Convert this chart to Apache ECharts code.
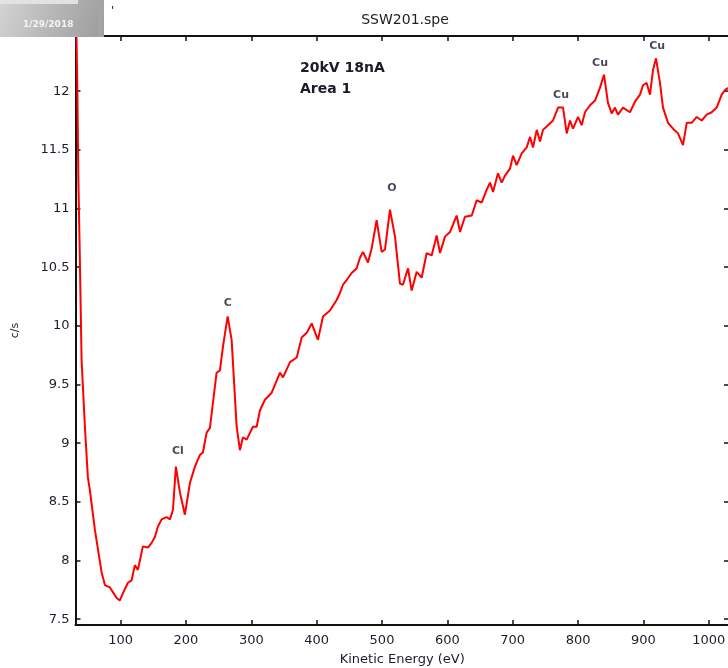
<!DOCTYPE html>
<html><head><meta charset="utf-8">
<script src="https://cdn.jsdelivr.net/npm/echarts@6/dist/echarts.min.js"></script>
<style>html,body{margin:0;padding:0;background:#fff}#c{width:728px;height:668px}</style>
</head><body><div id="c"></div>
<script>
const energy = [31, 33.9, 35.4, 37.7, 40.3, 45.4, 49.9, 53, 60.7, 70.9,
  76, 83.6, 88.2, 93.9, 98.9, 103.5, 111.2, 116.8, 121.9, 126.5,
  134.1, 141.8, 147.5, 152.5, 157.1, 162.8, 170.4, 175.5, 180.1, 184.6,
  190.8, 198.4, 206.1, 213.7, 221.4, 226, 231.6, 236.7, 246.9, 252,
  256.6, 263.8, 269.9, 277.6, 282.6, 287.2, 292.9, 302.5, 308.2, 313.3,
  320.9, 331.2, 343.9, 348.5, 359.2, 369.5, 377.1, 384.8, 392.4, 402,
  409.7, 420.4, 430.6, 435.7, 440.3, 446, 453.6, 461.3, 466.3, 470.9,
  478.6, 484.2, 491.8, 499.5, 504.6, 512.2, 519.9, 527.5, 532.1, 539.8,
  545.4, 553.1, 560.7, 568.4, 576, 583.7, 588.8, 596.4, 604.1, 614.3,
  619.4, 627, 637.3, 644.9, 652.6, 660.2, 665.3, 669.9, 677.5, 683.2,
  688.2, 695.9, 700.5, 706.1, 713.8, 721.4, 726.5, 731.1, 736.8, 741.8,
  746.4, 754.1, 761.7, 769.4, 777, 782.7, 787.7, 792.3, 800, 805.6,
  810.6, 818.3, 826, 833.6, 839.7, 845.8, 851.5, 856.5, 861.1, 868.8,
  879.5, 887.1, 894.8, 899.4, 905, 910.1, 914.7, 919.3, 925.4, 930,
  937.7, 945.3, 953, 960.6, 966.3, 973.9, 981.6, 989.2, 996.9, 1004.5,
  1012.2, 1019.8, 1024.9, 1031];
const counts = [13.0, 11.98, 11.24, 10.56, 9.71, 9.14, 8.71, 8.60, 8.26, 7.90,
  7.79, 7.77, 7.73, 7.68, 7.66, 7.72, 7.81, 7.83, 7.96, 7.92,
  8.12, 8.11, 8.15, 8.20, 8.29, 8.35, 8.37, 8.35, 8.43, 8.80,
  8.58, 8.39, 8.66, 8.80, 8.90, 8.92, 9.09, 9.13, 9.60, 9.62,
  9.82, 10.08, 9.88, 9.14, 8.94, 9.05, 9.03, 9.14, 9.14, 9.28,
  9.37, 9.43, 9.60, 9.56, 9.69, 9.73, 9.90, 9.94, 10.02, 9.88,
  10.08, 10.13, 10.22, 10.28, 10.35, 10.39, 10.45, 10.49, 10.58, 10.63,
  10.54, 10.66, 10.90, 10.63, 10.65, 10.99, 10.76, 10.36, 10.35, 10.49,
  10.30, 10.46, 10.41, 10.62, 10.60, 10.77, 10.62, 10.76, 10.80, 10.94,
  10.80, 10.93, 10.94, 11.07, 11.05, 11.16, 11.22, 11.14, 11.30, 11.22,
  11.28, 11.34, 11.45, 11.37, 11.47, 11.52, 11.61, 11.52, 11.67, 11.57,
  11.67, 11.71, 11.75, 11.86, 11.86, 11.64, 11.75, 11.68, 11.78, 11.71,
  11.82, 11.88, 11.92, 12.03, 12.14, 11.90, 11.81, 11.86, 11.80, 11.86,
  11.82, 11.91, 11.97, 12.05, 12.07, 11.97, 12.18, 12.28, 12.07, 11.86,
  11.73, 11.68, 11.64, 11.54, 11.73, 11.73, 11.78, 11.75, 11.80, 11.82,
  11.86, 11.97, 12.01, 12.03];
const xTicks = [100, 200, 300, 400, 500, 600, 700, 800, 900, 1000];
const yTicks = [7.5, 8, 8.5, 9, 9.5, 10, 10.5, 11, 11.5, 12];
const peakNames = ['Cl', 'C', 'O', 'Cu', 'Cu', 'Cu'];
const peakX = [187.7, 264.2, 515.3, 774, 833.7, 921];
const peakY = [8.93, 10.19, 11.17, 11.97, 12.24, 12.38];
const titleText = 'SSW201.spe';
const dateText = '1/29/2018';
const noteLines = ['20kV 18nA', 'Area 1'];
const xName = 'Kinetic Energy (eV)';
const yName = 'c/s';

const X_MIN = 31, X_MAX = 1031, Y_MIN = 7.45, Y_MAX = 12.47;
const FONT = 'DejaVu Sans';
const axisCol = '#111';
const labelCol = '#1c1c2c';

const lineData = energy.map((e, i) => [e, counts[i]]);
const peakData = peakNames.map((n, i) => [peakX[i], peakY[i], n]);
const plain = v => String(v);

const tickStyle = { show: true, inside: true, length: 5, lineStyle: { color: axisCol, width: 1.5 } };

const chart = echarts.init(document.getElementById('c'), null, { renderer: 'canvas' });
chart.setOption({
  animation: false,
  backgroundColor: '#fff',
  title: {
    text: titleText, left: 400, top: 8, textAlign: 'center',
    textStyle: { fontFamily: FONT, fontSize: 14, fontWeight: 'normal', color: '#222' }
  },
  grid: { left: 75.5, top: 36, width: 653.5, height: 589, outerBoundsMode: 'none', containLabel: false },
  xAxis: [{
    type: 'value', min: X_MIN, max: X_MAX, position: 'bottom',
    name: xName, nameLocation: 'middle', nameGap: 28,
    nameTextStyle: { fontFamily: FONT, fontSize: 13, color: labelCol },
    axisLine: { show: true, onZero: false, lineStyle: { color: axisCol, width: 2 } },
    axisTick: Object.assign({ customValues: xTicks }, tickStyle),
    axisLabel: { customValues: xTicks, formatter: plain, margin: 9, fontFamily: FONT, fontSize: 13, color: labelCol },
    splitLine: { show: false }
  }, {
    type: 'value', min: X_MIN, max: X_MAX, position: 'top',
    axisLine: { show: true, onZero: false, lineStyle: { color: axisCol, width: 2 } },
    axisTick: Object.assign({ customValues: xTicks }, tickStyle),
    axisLabel: { show: false },
    splitLine: { show: false }
  }],
  yAxis: [{
    type: 'value', min: Y_MIN, max: Y_MAX, position: 'left',
    name: yName, nameLocation: 'middle', nameGap: 55, nameRotate: 90,
    nameTextStyle: { fontFamily: FONT, fontSize: 11, color: labelCol },
    axisLine: { show: true, onZero: false, lineStyle: { color: axisCol, width: 2 } },
    axisTick: Object.assign({ customValues: yTicks }, tickStyle),
    axisLabel: { customValues: yTicks, formatter: plain, margin: 6, fontFamily: FONT, fontSize: 13, color: labelCol },
    splitLine: { show: false }
  }, {
    type: 'value', min: Y_MIN, max: Y_MAX, position: 'right',
    axisLine: { show: true, onZero: false, lineStyle: { color: axisCol, width: 2 } },
    axisTick: Object.assign({ customValues: yTicks }, tickStyle),
    axisLabel: { show: false },
    splitLine: { show: false }
  }],
  series: [{
    type: 'line', data: lineData, xAxisIndex: 0, yAxisIndex: 0,
    showSymbol: false, symbol: 'none', clip: true, silent: true,
    lineStyle: { color: '#ff0000', width: 2 }
  }, {
    type: 'scatter', data: peakData, xAxisIndex: 0, yAxisIndex: 0,
    symbolSize: 1, itemStyle: { color: 'rgba(0,0,0,0)' }, silent: true,
    label: {
      show: true, position: 'inside', formatter: p => p.data[2],
      fontFamily: FONT, fontSize: 11, fontWeight: 'bold', color: '#1c1c34'
    }
  }],
  graphic: [
    { type: 'rect', left: 0, top: 0, z: 100, shape: { width: 104, height: 37 },
      style: { fill: new echarts.graphic.LinearGradient(0, 0, 1, 1, [
        { offset: 0, color: '#d4d4d4' }, { offset: 0.5, color: '#b6b6b6' }, { offset: 1, color: '#9c9c9c' }]) } },
    { type: 'rect', left: 0, top: 0, z: 101, shape: { width: 78, height: 4 }, style: { fill: '#e2e2e2' } },
    { type: 'rect', left: 98, top: 0, z: 101, shape: { width: 5, height: 37 }, style: { fill: '#a4a4a4' } },
    { type: 'text', left: 23, top: 20, z: 102,
      style: { text: dateText, fontFamily: FONT, fontSize: 9, fontWeight: 'bold', fill: '#f4f4f4' } },
    { type: 'text', left: 111, top: 6, z: 102,
      style: { text: "'", fontFamily: FONT, fontSize: 10, fontWeight: 'bold', fill: '#203060' } },
    { type: 'text', left: 300, top: 58, z: 50,
      style: { text: noteLines.join('\n'), fontFamily: FONT, fontSize: 14, fontWeight: 'bold', lineHeight: 21, fill: '#1a1a2a' } }
  ]
});
</script></body></html>
